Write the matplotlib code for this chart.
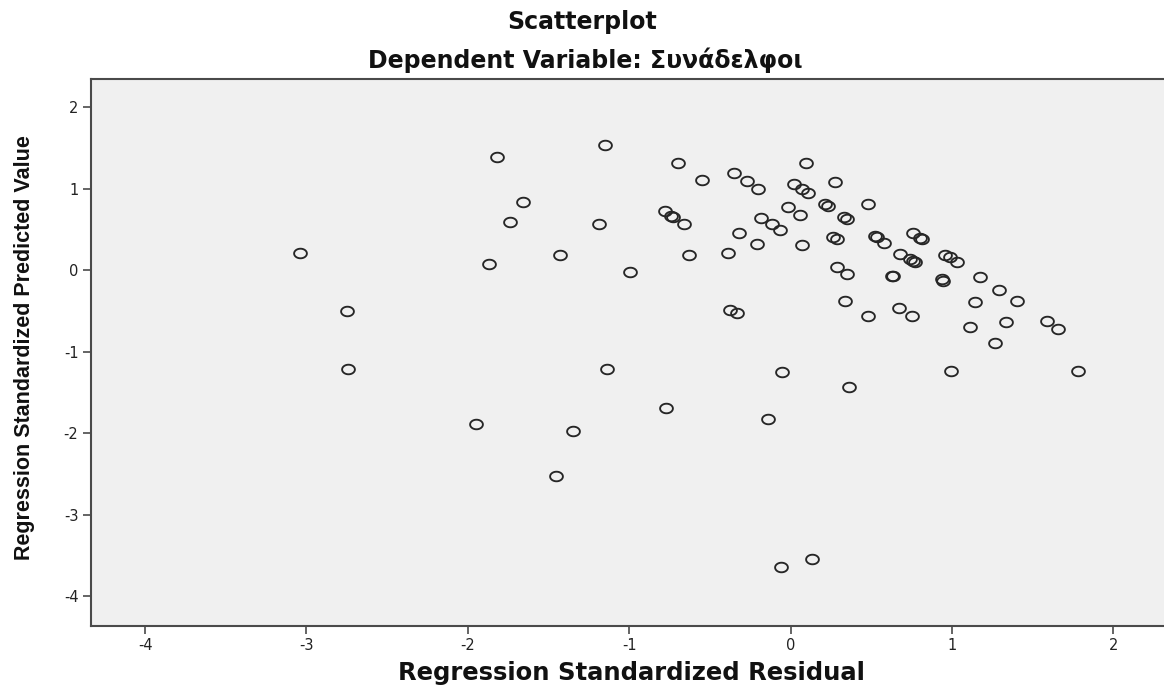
import numpy as np
import matplotlib
matplotlib.use("Agg")
import matplotlib.pyplot as plt
from matplotlib.path import Path

# Regression diagnostics: standardized residuals vs standardized predicted values
residual = [
    -3.04, -2.75, -2.74, -1.82, -1.66, -1.74, -1.87, -1.43, -1.19, -1.15,
    -0.995, -1.14, -1.95, -1.35, -1.455, -0.77, -0.70, -0.78, -0.74, -0.73,
    -0.66, -0.547, -0.35, -0.27, -0.20, 0.094, 0.023, 0.072, 0.106, 0.275,
    0.21, 0.23, 0.48, -0.018, 0.06, -0.185, -0.115, -0.066, -0.32, -0.21,
    0.072, -0.63, -0.386, 0.33, 0.35, 0.26, 0.29, 0.52, 0.537, 0.58,
    0.757, 0.80, 0.815, 0.68, 0.74, 0.757, 0.77, 0.63, 0.635, 0.285,
    0.35, 0.335, 0.48, 0.67, 0.75, -0.375, -0.33, 0.957, 0.99, 1.03,
    0.936, 0.946, 1.17, 1.29, 1.14, 1.40, 1.11, 1.335, 1.587, 1.657,
    1.266, 0.994, 1.78, -0.053, 0.362, -0.138, -0.06, 0.133,
]
predicted = [
    0.21, -0.50, -1.21, 1.39, 0.83, 0.59, 0.07, 0.19, 0.56, 1.54,
    -0.03, -1.21, -1.89, -1.97, -2.53, -1.69, 1.31, 0.72, 0.66, 0.65,
    0.57, 1.10, 1.19, 1.09, 1.00, 1.31, 1.06, 0.99, 0.95, 1.08,
    0.81, 0.785, 0.81, 0.77, 0.67, 0.64, 0.56, 0.49, 0.46, 0.32,
    0.31, 0.18, 0.21, 0.65, 0.63, 0.40, 0.38, 0.42, 0.41, 0.335,
    0.45, 0.39, 0.375, 0.20, 0.13, 0.11, 0.10, -0.07, -0.075, 0.037,
    -0.05, -0.38, -0.57, -0.47, -0.57, -0.49, -0.53, 0.18, 0.155, 0.094,
    -0.11, -0.135, -0.09, -0.24, -0.39, -0.38, -0.70, -0.64, -0.62, -0.72,
    -0.90, -1.235, -1.235, -1.25, -1.44, -1.83, -3.65, -3.55,
]
x_ticks = [-4, -3, -2, -1, 0, 1, 2]
y_ticks = [-4, -3, -2, -1, 0, 1, 2]

title_text = "Scatterplot"
subtitle_text = "Dependent Variable: Συνάδελφοι"
x_label = "Regression Standardized Residual"
y_label = "Regression Standardized Predicted Value"

plt.rcParams["axes.unicode_minus"] = False

fig = plt.figure(figsize=(11.64, 6.93), dpi=100)
fig.patch.set_facecolor("white")
ax = fig.add_axes([91 / 1164, 67 / 693, 1 - 91 / 1164, (626 - 79) / 693])
ax.set_facecolor("#F0F0F0")

# slightly flattened open circle marker
t = np.linspace(0, 2 * np.pi, 65)
ellipse = Path(np.column_stack([np.cos(t), 0.75 * np.sin(t)]), closed=True)

ax.plot(residual, predicted, linestyle="none", marker=ellipse, markersize=9.2,
        markerfacecolor="none", markeredgecolor="#262626", markeredgewidth=1.35)

ax.set_xlim(-4.335, 2.313)
ax.set_ylim(-4.368, 2.344)
ax.set_xticks(x_ticks)
ax.set_yticks(y_ticks)
ax.set_xticklabels([str(v) for v in x_ticks])
ax.set_yticklabels([str(v) for v in y_ticks])

for side in ("left", "bottom", "top"):
    ax.spines[side].set_color("#4a4a4a")
    ax.spines[side].set_linewidth(1.5)
ax.spines["right"].set_visible(False)

ax.tick_params(axis="both", direction="out", length=6, width=1.2,
               color="#4a4a4a", labelcolor="#222222", labelsize=10.5, pad=3)
for lbl in ax.get_xticklabels() + ax.get_yticklabels():
    lbl.set_fontfamily("DejaVu Sans")

fig.text(0.5, 1 - 22 / 693, title_text, ha="center", va="center",
         fontsize=17, fontweight="bold", family="DejaVu Sans", color="#111111")
fig.text(585 / 1164, 1 - 60 / 693, subtitle_text, ha="center", va="center",
         fontsize=17, fontweight="bold", family="DejaVu Sans", color="#111111")
fig.text(631 / 1164, 1 - 673 / 693, x_label, ha="center", va="center",
         fontsize=17.5, fontweight="bold", family="DejaVu Sans", color="#111111")
fig.text(25 / 1164, 1 - 348 / 693, y_label, ha="center", va="center",
         rotation=90, fontsize=15.5, fontweight="bold", family="Liberation Sans",
         color="#111111")

fig.savefig("out.png", dpi=100)
